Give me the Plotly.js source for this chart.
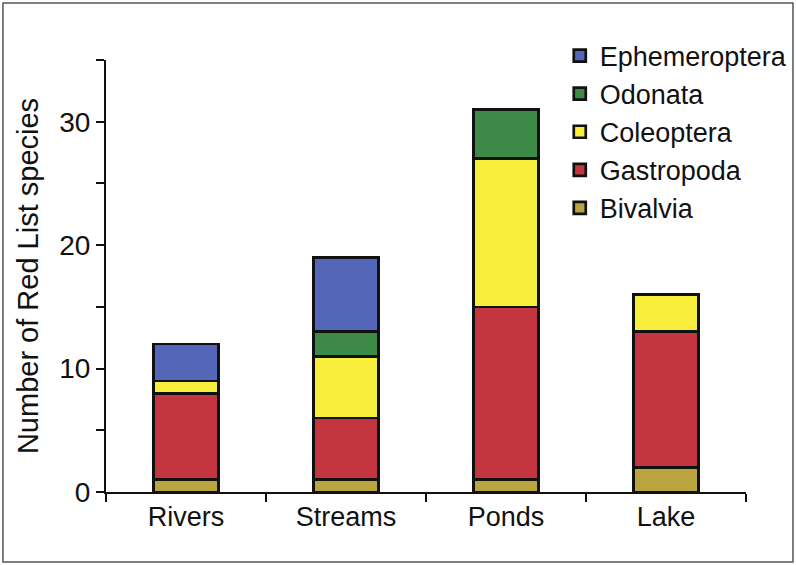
<!DOCTYPE html>
<html>
<head>
<meta charset="utf-8">
<script src="https://cdn.plot.ly/plotly-3.0.1.min.js"></script>
<style>html,body{margin:0;padding:0;background:#fff;}#chart{width:796px;height:565px;}</style>
</head>
<body>
<div id="chart"></div>
<script>
const categories = ['Rivers', 'Streams', 'Ponds', 'Lake'];
const bivalvia = [1, 1, 1, 2];
const gastropoda = [7, 5, 14, 11];
const coleoptera = [1, 5, 12, 3];
const odonata = [0, 2, 4, 0];
const ephemeroptera = [3, 6, 0, 0];
const yTickVals = [0, 5, 10, 15, 20, 25, 30, 35];
const yTickText = ['0', '', '10', '', '20', '', '30', ''];

const colors = {
  Bivalvia: '#b9a43f',
  Gastropoda: '#c4363f',
  Coleoptera: '#f7ef3c',
  Odonata: '#3d8a48',
  Ephemeroptera: '#5366b8'
};

const seriesList = [
  ['Bivalvia', bivalvia],
  ['Gastropoda', gastropoda],
  ['Coleoptera', coleoptera],
  ['Odonata', odonata],
  ['Ephemeroptera', ephemeroptera]
];

const traces = seriesList.map(([name, vals]) => ({
  type: 'bar',
  name: name,
  x: categories,
  y: vals,
  width: 0.41,
  marker: { color: colors[name], line: { color: '#111', width: 2.7 } },
  hoverinfo: 'x+y+name'
}));

const layout = {
  width: 796,
  height: 565,
  margin: { l: 106, r: 50, t: 60, b: 73, autoexpand: false },
  paper_bgcolor: '#ffffff',
  plot_bgcolor: '#ffffff',
  barmode: 'stack',
  showlegend: true,
  font: { family: 'Liberation Sans, Arial, sans-serif', color: '#111' },
  legend: {
    x: 0.709, xanchor: 'left', y: 1.066, yanchor: 'top',
    font: { size: 27, color: '#111' },
    bgcolor: 'rgba(0,0,0,0)',
    traceorder: 'reversed',
    tracegroupgap: 0
  },
  xaxis: {
    type: 'category',
    range: [-0.5, 3.5],
    automargin: false,
    showline: true, linecolor: '#111', linewidth: 2,
    ticks: 'outside', tickson: 'boundaries', ticklen: 8, tickwidth: 2, tickcolor: '#111',
    tickfont: { size: 27, color: '#111' },
    showgrid: false, zeroline: false
  },
  yaxis: {
    range: [0, 35],
    automargin: false,
    tickmode: 'array', tickvals: yTickVals, ticktext: yTickText,
    showline: true, linecolor: '#111', linewidth: 2,
    ticks: 'outside', ticklen: 8, tickwidth: 2, tickcolor: '#111',
    tickfont: { size: 28, color: '#111' },
    showgrid: false, zeroline: false,
    title: { text: 'Number of Red List species', font: { size: 29, color: '#111' }, standoff: 12 }
  },
  shapes: [{
    type: 'rect', xref: 'paper', yref: 'paper',
    x0: -0.161, x1: 1.0734, y0: -0.162, y1: 1.1319,
    line: { color: '#555', width: 1.5 }, fillcolor: 'rgba(0,0,0,0)'
  }]
};

Plotly.newPlot('chart', traces, layout, { displayModeBar: false, staticPlot: true });
</script>
</body>
</html>
